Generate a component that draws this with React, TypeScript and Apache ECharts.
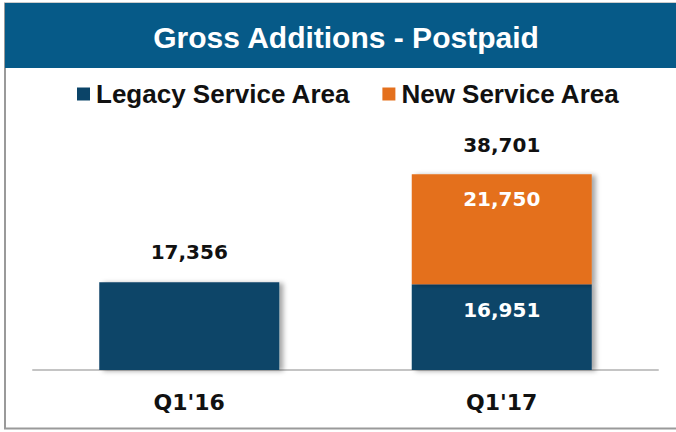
import React, { useEffect, useRef } from "react";
import * as echarts from "echarts";

const categories = ["Q1'16", "Q1'17"];
const legacyValues = [17356, 16951];
const newValues: (number | string)[] = ["-", 21750];
const totals = [17356, 38701];
const seriesNames = ["Legacy Service Area", "New Service Area"];
const chartTitle = "Gross Additions - Postpaid";

const BLUE_BAR = "#0B4468";
const ORANGE = "#E4701D";
const TITLE_BLUE = "#065A88";
const fmt = (v: number) => v.toLocaleString("en-US");

export default function App() {
  const ref = useRef<HTMLDivElement>(null);
  useEffect(() => {
    document.body.style.margin = "0";
    const chart = echarts.init(ref.current!, null, { renderer: "svg" });
    const valueFont = "'DejaVu Sans', Verdana, sans-serif";
    const shadow = {
      shadowColor: "rgba(0,0,0,0.35)",
      shadowBlur: 5,
      shadowOffsetX: 4,
      shadowOffsetY: 1,
    };
    chart.setOption({
      animation: false,
      backgroundColor: "#ffffff",
      graphic: [
        {
          type: "rect",
          shape: { x: 5, y: 3.5, width: 700, height: 425 },
          style: { fill: "none", stroke: "#9a9a9a", lineWidth: 2 },
          z: 0,
        },
        {
          type: "rect",
          shape: { x: 5, y: 3, width: 671, height: 65 },
          style: { fill: TITLE_BLUE },
          z: 1,
        },
        {
          type: "text",
          x: 346,
          y: 37,
          style: {
            text: chartTitle,
            fill: "#ffffff",
            font: "bold 30px 'Liberation Sans', Arial, sans-serif",
            textAlign: "center",
            textVerticalAlign: "middle",
          },
          z: 2,
        },
      ],
      legend: {
        data: seriesNames,
        left: 72,
        top: 76,
        icon: "rect",
        itemWidth: 13,
        itemHeight: 13,
        itemGap: 32,
        textStyle: {
          fontFamily: "'Liberation Sans', Arial, sans-serif",
          fontWeight: "bold",
          fontSize: 26,
          color: "#111111",
          lineHeight: 26,
          padding: [0, 0, 0, 1],
        },
      },
      grid: { left: 33, right: 18, top: 117, bottom: 62, containLabel: false },
      xAxis: {
        type: "category",
        data: categories,
        axisLine: { lineStyle: { color: "#c4c4c4", width: 2 } },
        axisTick: { show: false },
        axisLabel: {
          margin: 21,
          color: "#111111",
          fontFamily: valueFont,
          fontWeight: "bold",
          fontSize: 22,
        },
      },
      yAxis: {
        type: "value",
        min: 0,
        max: 50000,
        show: false,
        splitLine: { show: false },
      },
      series: [
        {
          name: seriesNames[0],
          type: "bar",
          stack: "total",
          barWidth: 180,
          itemStyle: { color: BLUE_BAR, ...shadow },
          data: legacyValues.map((v, i) =>
            i === 0
              ? {
                  value: v,
                  label: {
                    show: true,
                    position: "top",
                    distance: 20,
                    color: "#111111",
                    formatter: () => fmt(v),
                  },
                }
              : {
                  value: v,
                  label: {
                    show: true,
                    position: "insideTop",
                    distance: 16,
                    color: "#ffffff",
                    formatter: () => fmt(v),
                  },
                }
          ),
          label: {
            fontFamily: valueFont,
            fontWeight: "bold",
            fontSize: 20,
            lineHeight: 20,
          },
        },
        {
          name: seriesNames[1],
          type: "bar",
          stack: "total",
          barWidth: 180,
          itemStyle: { color: ORANGE, ...shadow },
          data: newValues,
          label: {
            show: true,
            position: "insideTop",
            distance: 15,
            color: "#ffffff",
            fontFamily: valueFont,
            fontWeight: "bold",
            fontSize: 20,
            lineHeight: 20,
            formatter: (p: any) => fmt(p.value),
          },
        },
        {
          name: "Total",
          type: "bar",
          stack: "total",
          barWidth: 180,
          itemStyle: { color: "transparent" },
          data: totals.map((t, i) => (i === 0 ? "-" : 0)),
          label: {
            show: true,
            position: "top",
            distance: 19,
            color: "#111111",
            fontFamily: valueFont,
            fontWeight: "bold",
            fontSize: 20,
            lineHeight: 20,
            formatter: (p: any) => fmt(totals[p.dataIndex]),
          },
          tooltip: { show: false },
        },
      ],
    });
    return () => chart.dispose();
  }, []);
  return <div ref={ref} style={{ width: 676, height: 432 }} />;
}
